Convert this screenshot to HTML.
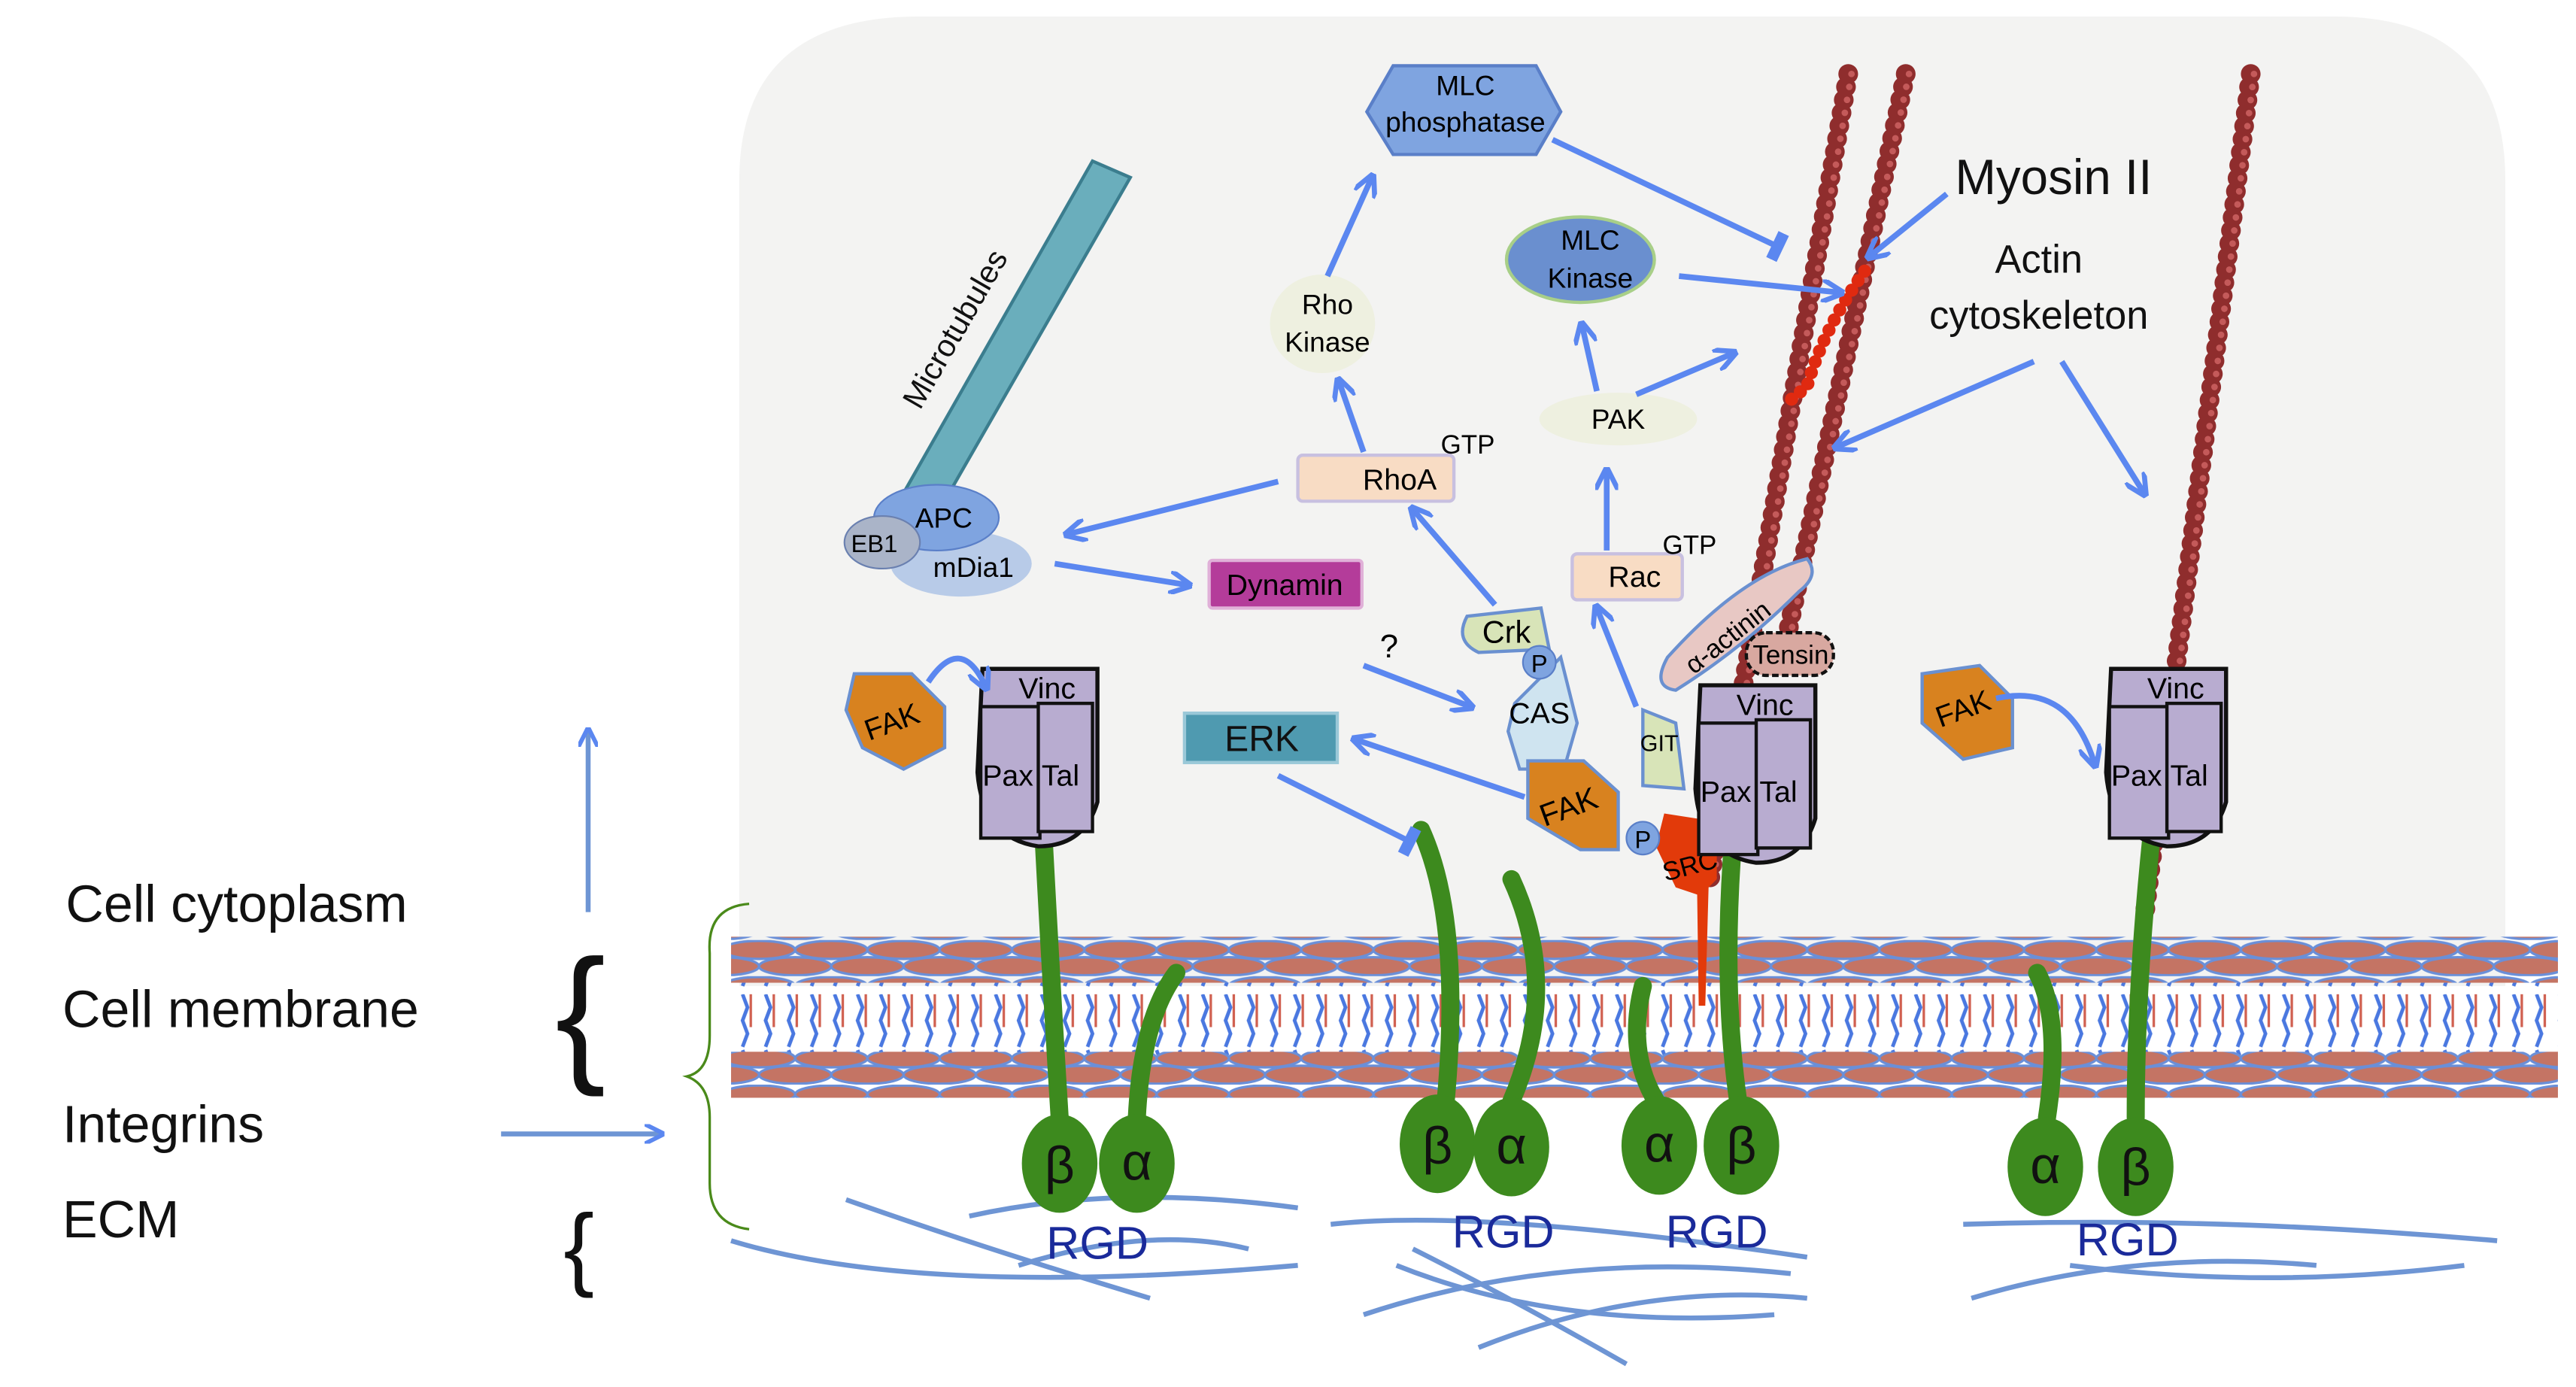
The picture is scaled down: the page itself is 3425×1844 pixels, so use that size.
<!DOCTYPE html>
<html><head><meta charset="utf-8"><style>
html,body{margin:0;padding:0;background:#fff;}
svg{display:block;}
text{font-family:"Liberation Sans",sans-serif;}
</style></head><body>
<svg width="3425" height="1844" viewBox="0 0 1568 844" preserveAspectRatio="none" xmlns="http://www.w3.org/2000/svg">
<defs>
<marker id="ah" viewBox="0 0 10 10" refX="8" refY="5" markerWidth="4" markerHeight="4" orient="auto"><path d="M0,0 L10,5 L0,10" fill="none" stroke="#5b87f0" stroke-width="2.2"/></marker>
<marker id="tb" viewBox="0 0 4 10" refX="2" refY="5" markerWidth="3" markerHeight="5" orient="auto"><rect x="0" y="0" width="4" height="10" fill="#5b87f0"/></marker>
<pattern id="heads" x="0" y="0" width="44" height="22" patternUnits="userSpaceOnUse">
<ellipse cx="22" cy="6" rx="22" ry="5.5" fill="#c47464" stroke="#6a8fd8" stroke-width="1.5"/>
<ellipse cx="0" cy="16" rx="22" ry="5.5" fill="#c47464" stroke="#6a8fd8" stroke-width="1.5"/>
<ellipse cx="44" cy="16" rx="22" ry="5.5" fill="#c47464" stroke="#6a8fd8" stroke-width="1.5"/>
</pattern>
<pattern id="tails" x="0" y="0" width="14" height="55" patternUnits="userSpaceOnUse">
<path d="M4,0 l3,8 -3,8 3,8 -3,8" fill="none" stroke="#4a78e0" stroke-width="2.2"/>
<path d="M9,0 l0,20" fill="none" stroke="#d06050" stroke-width="1.5"/>
<path d="M4,34 l3,8 -3,8" fill="none" stroke="#4a78e0" stroke-width="2.2"/>
</pattern>
</defs>
<path d="M450,600 L450,110 Q450,10 560,10 L1420,10 Q1525,10 1525,110 L1525,600 Z" fill="#f3f3f2"/>
<rect x="445" y="570" width="1112" height="28" fill="url(#heads)"/>
<rect x="445" y="598" width="1112" height="44" fill="url(#tails)"/>
<rect x="445" y="640" width="1112" height="28" fill="url(#heads)"/>
<g fill="none" stroke="#6e95d4" stroke-width="3">
<path d="M445,755 Q560,790 790,770"/><path d="M515,730 Q600,760 700,790"/><path d="M590,740 Q680,720 790,735"/><path d="M620,770 Q700,745 760,760"/>
<path d="M810,745 Q900,735 1100,765"/><path d="M830,800 Q950,760 1090,775"/><path d="M850,770 Q950,810 1080,800"/><path d="M900,820 Q1000,780 1100,790"/><path d="M860,760 Q920,790 990,830"/>
<path d="M1195,745 Q1350,740 1520,755"/><path d="M1200,790 Q1300,760 1410,770"/><path d="M1260,770 Q1380,785 1500,770"/>
</g>
<rect x="792" y="700" width="14" height="144" fill="#fff"/><rect x="1105" y="700" width="88" height="144" fill="#fff"/>
<g font-size="32" fill="#111">
<text x="40" y="561">Cell cytoplasm</text>
<text x="38" y="625">Cell membrane</text>
<text x="38" y="695">Integrins</text>
<text x="38" y="753">ECM</text>
</g>
<text x="338" y="648" font-size="92" fill="#111">{</text>
<text x="343" y="778" font-size="56" fill="#111">{</text>
<line x1="358" y1="555" x2="358" y2="445" stroke="#6e95d4" stroke-width="3" marker-end="url(#ah)"/>
<line x1="305" y1="690" x2="402" y2="690" stroke="#6e95d4" stroke-width="3" marker-end="url(#ah)"/>
<path d="M456,550 Q430,552 432,580 L432,630 Q432,652 418,655 Q432,660 432,680 L432,720 Q432,745 456,748" fill="none" stroke="#4a8a1a" stroke-width="1.5"/>
<g fill="none" stroke="#8f2d2d" stroke-width="12" stroke-linecap="round" stroke-dasharray="0 8">
<path d="M1125,45 L1040,540"/><path d="M1160,45 L1085,400"/><path d="M1370,45 L1305,560"/>
</g>
<g fill="none" stroke="#c45a5a" stroke-width="4" stroke-linecap="round" stroke-dasharray="0 8">
<path d="M1127,45 L1042,540"/><path d="M1162,45 L1087,400"/><path d="M1372,45 L1307,560"/>
</g>
<path d="M1135,165 Q1110,200 1100,235 L1088,245" fill="none" stroke="#e02a10" stroke-width="8" stroke-linecap="round" stroke-dasharray="0 7"/>
<path d="M550,300 L665,98 L688,108 L572,310 Z" fill="#6aaebc" stroke="#3b7d8e" stroke-width="2"/>
<text transform="translate(560,250) rotate(-60)" font-size="19" fill="#111">Microtubules</text>
<ellipse cx="585" cy="343" rx="43" ry="20" fill="#b8cbe8"/>
<ellipse cx="570" cy="315" rx="38" ry="20" fill="#7fa4e0" stroke="#5a7fc8"/>
<ellipse cx="537" cy="330" rx="23" ry="16" fill="#aab4c8" stroke="#6a80b0"/>
<text x="557" y="321" font-size="17">APC</text><text x="518" y="336" font-size="15">EB1</text><text x="568" y="351" font-size="17">mDia1</text>
<path d="M848,40 L935,40 L950,68 L935,94 L848,94 L832,68 Z" fill="#7fa4e0" stroke="#5a7fc8" stroke-width="2"/>
<text x="892" y="58" font-size="17" text-anchor="middle">MLC</text><text x="892" y="80" font-size="17" text-anchor="middle">phosphatase</text>
<ellipse cx="962" cy="158" rx="45" ry="26" fill="#6a8fcf" stroke="#a8cf88" stroke-width="2"/>
<text x="968" y="152" font-size="17" text-anchor="middle">MLC</text><text x="968" y="175" font-size="17" text-anchor="middle">Kinase</text>
<ellipse cx="805" cy="197" rx="32" ry="30" fill="#eef0e0"/>
<text x="808" y="191" font-size="17" text-anchor="middle">Rho</text><text x="808" y="214" font-size="17" text-anchor="middle">Kinase</text>
<ellipse cx="985" cy="255" rx="48" ry="16" fill="#eef0e0"/><text x="985" y="261" font-size="17" text-anchor="middle">PAK</text>
<rect x="790" y="277" width="95" height="28" rx="3" fill="#f8dcc4" stroke="#c8c0e0" stroke-width="2"/><text x="852" y="298" font-size="18" text-anchor="middle">RhoA</text>
<text x="877" y="276" font-size="16">GTP</text>
<rect x="957" y="337" width="67" height="28" rx="3" fill="#f8dcc4" stroke="#c8c0e0" stroke-width="2"/><text x="995" y="357" font-size="18" text-anchor="middle">Rac</text>
<text x="1012" y="337" font-size="16">GTP</text>
<rect x="736" y="341" width="93" height="29" rx="2" fill="#b43c9a" stroke="#e0b0d8" stroke-width="2"/><text x="782" y="362" font-size="18" text-anchor="middle">Dynamin</text>
<rect x="721" y="434" width="93" height="30" fill="#4f9ab0" stroke="#9ac8d8" stroke-width="2"/><text x="768" y="457" font-size="22" text-anchor="middle" fill="#111">ERK</text>
<text x="840" y="400" font-size="20">?</text>
<path d="M922,428 L950,400 L960,440 L952,468 L925,468 L918,445 Z" fill="#cfe4f0" stroke="#6a90d0" stroke-width="2"/>
<text x="937" y="440" font-size="18" text-anchor="middle">CAS</text>
<path d="M893,375 L938,370 L943,395 L900,397 Q885,390 893,375Z" fill="#d8e4b8" stroke="#6a90d0" stroke-width="2"/><text x="917" y="391" font-size="19" text-anchor="middle">Crk</text>
<circle cx="937" cy="403" r="10" fill="#7fa4e0" stroke="#5a7fc8"/><text x="937" y="409" font-size="15" text-anchor="middle">P</text>
<path d="M1000,432 L1020,440 L1025,480 L1000,478 Z" fill="#d8e4b8" stroke="#6a90d0" stroke-width="2"/><text x="1010" y="457" font-size="14" text-anchor="middle">GIT</text>
<path d="M930,463 L964,463 L985,482 L985,517 L962,517 L930,498 Z" fill="#d8821f" stroke="#6a90d0" stroke-width="2"/>
<text transform="translate(957,497) rotate(-20)" font-size="19" text-anchor="middle">FAK</text>
<path d="M1013,495 L1045,500 L1045,535 L1035,545 L1020,540 L1008,515 Z" fill="#e23a0a"/>
<path d="M1033,540 L1040,540 L1038,612 L1034,612 Z" fill="#e23a0a"/>
<text transform="translate(1030,532) rotate(-15)" font-size="16" text-anchor="middle">SRC</text>
<circle cx="1000" cy="510" r="10" fill="#7fa4e0" stroke="#5a7fc8"/><text x="1000" y="516" font-size="15" text-anchor="middle">P</text>
<path d="M1015,400 Q1060,350 1100,340 Q1108,350 1095,360 Q1060,395 1020,420 Q1005,418 1015,400Z" fill="#e8c8c4" stroke="#6a90d0" stroke-width="2"/>
<text transform="translate(1055,392) rotate(-38)" font-size="16" text-anchor="middle">α-actinin</text>
<rect x="1063" y="385" width="53" height="26" rx="12" fill="#d8a8a0" stroke="#111" stroke-width="2" stroke-dasharray="4 2"/>
<text x="1090" y="404" font-size="16" text-anchor="middle">Tensin</text>
<g fill="none" stroke="#3d8a1e" stroke-width="11" stroke-linecap="round">
<path d="M635,505 Q640,600 645,680"/><path d="M716,592 Q695,620 692,680"/>
<path d="M865,505 Q890,560 880,670"/><path d="M920,535 Q950,600 920,670"/>
<path d="M1000,600 Q990,640 1008,670"/><path d="M1055,510 Q1048,600 1058,670"/>
<path d="M1240,592 Q1255,620 1246,680"/><path d="M1310,505 Q1300,600 1300,680"/>
</g>
<g fill="#3d8a1e">
<ellipse cx="645" cy="708" rx="23" ry="30"/><ellipse cx="692" cy="708" rx="23" ry="30"/>
<ellipse cx="875" cy="696" rx="23" ry="30"/><ellipse cx="920" cy="698" rx="23" ry="30"/>
<ellipse cx="1010" cy="697" rx="23" ry="30"/><ellipse cx="1060" cy="697" rx="23" ry="30"/>
<ellipse cx="1245" cy="710" rx="23" ry="30"/><ellipse cx="1300" cy="710" rx="23" ry="30"/>
</g>
<g font-size="32" text-anchor="middle" fill="#111" font-family="Liberation Serif">
<text x="645" y="720">β</text><text x="692" y="718">α</text><text x="875" y="708">β</text><text x="920" y="708">α</text>
<text x="1010" y="707">α</text><text x="1060" y="708">β</text><text x="1245" y="720">α</text><text x="1300" y="721">β</text>
</g>
<g font-size="28" fill="#1a2a9a" text-anchor="middle">
<text x="668" y="766">RGD</text><text x="915" y="759">RGD</text><text x="1045" y="759">RGD</text><text x="1295" y="764">RGD</text>
</g>
<g id="fa">
<path d="M598,407 L668,407 L668,488 Q660,515 632,515 Q598,510 595,470 Z" fill="#b8acd0" stroke="#111" stroke-width="2.5"/>
<rect x="597" y="430" width="36" height="80" fill="#b8acd0" stroke="#111" stroke-width="2"/>
<rect x="632" y="428" width="33" height="78" fill="#b8acd0" stroke="#111" stroke-width="2"/>
<text x="620" y="425" font-size="18">Vinc</text><text x="598" y="478" font-size="18">Pax</text><text x="634" y="478" font-size="18">Tal</text>
</g>
<use href="#fa" transform="translate(437,10)"/>
<use href="#fa" transform="translate(687,0)"/>
<path d="M520,410 L555,410 L575,430 L575,455 L550,468 L525,455 L515,432 Z" fill="#d8821f" stroke="#6a90d0" stroke-width="2"/>
<text transform="translate(545,445) rotate(-20)" font-size="18" text-anchor="middle">FAK</text>
<path d="M1170,410 L1205,405 L1225,425 L1225,455 L1195,462 L1170,440 Z" fill="#d8821f" stroke="#6a90d0" stroke-width="2"/>
<text transform="translate(1197,437) rotate(-20)" font-size="18" text-anchor="middle">FAK</text>
<g fill="none" stroke="#5b87f0" stroke-width="3.5">
<path d="M565,415 Q585,385 600,418" marker-end="url(#ah)"/>
<path d="M1215,425 Q1260,415 1275,465" marker-end="url(#ah)"/>
<line x1="808" y1="168" x2="835" y2="108" marker-end="url(#ah)"/>
<line x1="945" y1="85" x2="1082" y2="150" marker-end="url(#tb)"/>
<line x1="830" y1="275" x2="815" y2="232" marker-end="url(#ah)"/>
<line x1="778" y1="293" x2="650" y2="325" marker-end="url(#ah)"/>
<line x1="642" y1="343" x2="723" y2="356" marker-end="url(#ah)"/>
<line x1="910" y1="368" x2="860" y2="310" marker-end="url(#ah)"/>
<line x1="972" y1="238" x2="963" y2="198" marker-end="url(#ah)"/>
<line x1="996" y1="240" x2="1055" y2="215" marker-end="url(#ah)"/>
<line x1="1022" y1="168" x2="1120" y2="178" marker-end="url(#ah)"/>
<line x1="978" y1="335" x2="978" y2="287" marker-end="url(#ah)"/>
<line x1="996" y1="430" x2="972" y2="370" marker-end="url(#ah)"/>
<line x1="928" y1="485" x2="825" y2="450" marker-end="url(#ah)"/>
<line x1="830" y1="405" x2="895" y2="430" marker-end="url(#ah)"/>
<line x1="778" y1="472" x2="858" y2="512" marker-end="url(#tb)"/>
<line x1="1185" y1="118" x2="1138" y2="156" marker-end="url(#ah)"/>
<line x1="1238" y1="220" x2="1118" y2="272" marker-end="url(#ah)"/>
<line x1="1255" y1="220" x2="1305" y2="300" marker-end="url(#ah)"/>
</g>
<text x="1190" y="118" font-size="30" fill="#111">Myosin II</text>
<text x="1241" y="166" font-size="24" fill="#111" text-anchor="middle">Actin</text>
<text x="1241" y="200" font-size="24" fill="#111" text-anchor="middle">cytoskeleton</text>
</svg>
</body></html>
